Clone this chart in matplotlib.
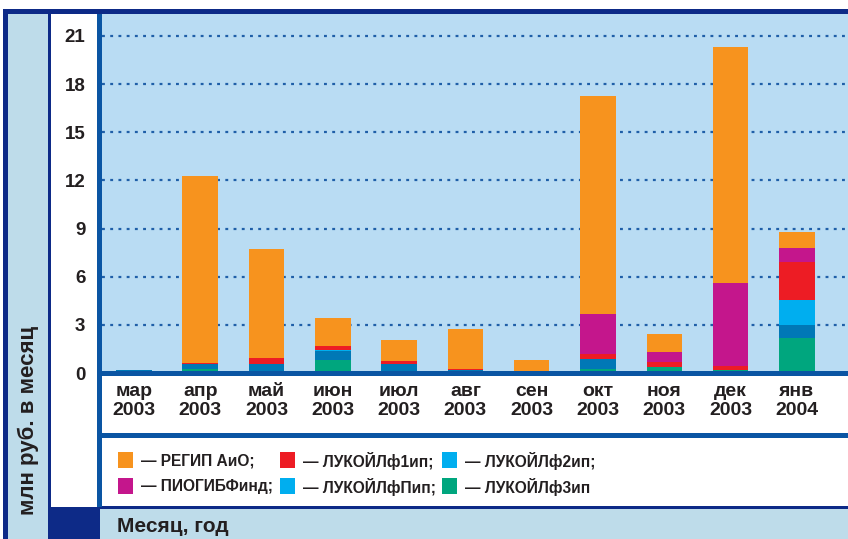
import matplotlib
matplotlib.use('Agg')
from matplotlib import pyplot as plt
from matplotlib.patches import Rectangle
import numpy as np

plt.rcParams['font.family'] = ['Liberation Sans', 'DejaVu Sans']
plt.rcParams['font.weight'] = 'bold'

months = ['мар', 'апр', 'май', 'июн', 'июл', 'авг', 'сен', 'окт', 'ноя', 'дек', 'янв']
years = ['2003'] * 10 + ['2004']

# млн руб. в месяц, stacked bottom -> top
lukoil_3 = [0, 0.28, 0.05, 0.84, 0, 0.10, 0, 0.28, 0.40, 0.20, 2.21]
lukoil_p = [0.20, 0.25, 0.50, 0.50, 0.55, 0.08, 0.04, 0.62, 0, 0, 0.81]
lukoil_2 = [0, 0, 0, 0.07, 0, 0, 0, 0, 0, 0, 1.50]
lukoil_1 = [0, 0.12, 0.40, 0.25, 0.19, 0.10, 0.08, 0.31, 0.31, 0.25, 2.39]
piogib = [0, 0, 0, 0, 0, 0, 0, 2.49, 0.62, 5.17, 0.85]
regip = [0, 11.65, 6.80, 1.74, 1.29, 2.45, 0.66, 13.58, 1.12, 14.70, 1.00]

series = [lukoil_3, lukoil_p, lukoil_2, lukoil_1, piogib, regip]
colors = ['#00a67e', '#0078b6', '#00aeef', '#ed1c24', '#c4168c', '#f7931e']

legend_labels = ['— РЕГИП АиО;', '— ЛУКОЙЛф1ип;', '— ЛУКОЙЛф2ип;',
                 '— ПИОГИБФинд;', '— ЛУКОЙЛфПип;', '— ЛУКОЙЛф3ип']
legend_colors = ['#f7931e', '#ed1c24', '#00aeef', '#c4168c', '#00aeef', '#00a67e']

yticks = [0, 3, 6, 9, 12, 15, 18, 21]

NAVY = '#0d2a87'
BLUE = '#0a55a3'
PALE = '#bedcea'
SKY = '#b9dcf3'
INK = '#231f20'

W, H = 848, 539
fig = plt.figure(figsize=(W / 100, H / 100), dpi=100)
fig.patch.set_facecolor('white')

# frame drawn in pixel units
bg = fig.add_axes([0, 0, 1, 1], zorder=0)
bg.set_xlim(0, W)
bg.set_ylim(H, 0)
bg.axis('off')


def box(x0, y0, x1, y1, c):
    bg.add_patch(Rectangle((x0, y0), x1 - x0, y1 - y0, facecolor=c, edgecolor='none'))


box(3, 9, W, H, NAVY)
box(8, 14, 48, H, PALE)
box(51, 14, 97, 507, 'white')
box(97, 14, 102, 507, BLUE)
box(102, 375, W, 433, 'white')
box(102, 433, W, 438, BLUE)
box(102, 438, W, 506, 'white')
box(100, 509, W, H, PALE)

bg.text(28, 420, 'млн руб. в месяц', rotation=90, ha='center', va='center',
        fontsize=16, fontweight='bold', color=INK)
bg.text(117, 526, 'Месяц, год', ha='left', va='center',
        fontsize=15, fontweight='bold', color=INK)

# legend, 3 columns x 2 rows
col_x = [118, 280, 442]
row_y = [452, 478]
for i, (lab, c) in enumerate(zip(legend_labels, legend_colors)):
    x = col_x[i % 3]
    y = row_y[i // 3]
    box(x, y, x + 15, y + 16, c)
    bg.text(x + 23, y + 8.5, lab, ha='left', va='center',
            fontsize=11.2, fontweight='bold', color=INK)

# main chart
zero_px = 373.0
unit_px = 16.05
top_px = 14
ax = fig.add_axes([102 / W, (H - zero_px) / H, (W - 102) / W, (zero_px - top_px) / H], zorder=1)
ax.set_facecolor(SKY)
ax.set_ylim(0, (zero_px - top_px) / unit_px)
ax.set_xlim(-0.48, 10.77)

x = np.arange(len(months))
bottom = np.zeros(len(months))
for vals, c in zip(series, colors):
    ax.bar(x, vals, width=0.535, bottom=bottom, color=c, edgecolor='none', zorder=2)
    bottom += np.array(vals)

for t in yticks[1:]:
    ax.axhline(t, color='#1f5fa8', lw=1.6, linestyle=(0, (1.3, 2.4)), zorder=1)

ax.set_yticks(yticks)
ax.set_yticklabels([str(t) for t in yticks], fontsize=13.5, fontweight='bold', color=INK)
ax.set_xticks(x)
ax.set_xticklabels([m + '\n' + y for m, y in zip(months, years)],
                   fontsize=14, fontweight='bold', color=INK, linespacing=1.15)
ax.tick_params(axis='y', length=0, pad=12)
ax.tick_params(axis='x', length=0, pad=7)

for s in ['top', 'right', 'left']:
    ax.spines[s].set_visible(False)
ax.spines['bottom'].set_color(BLUE)
ax.spines['bottom'].set_linewidth(3.6)

fig.savefig('out.png', dpi=100)
